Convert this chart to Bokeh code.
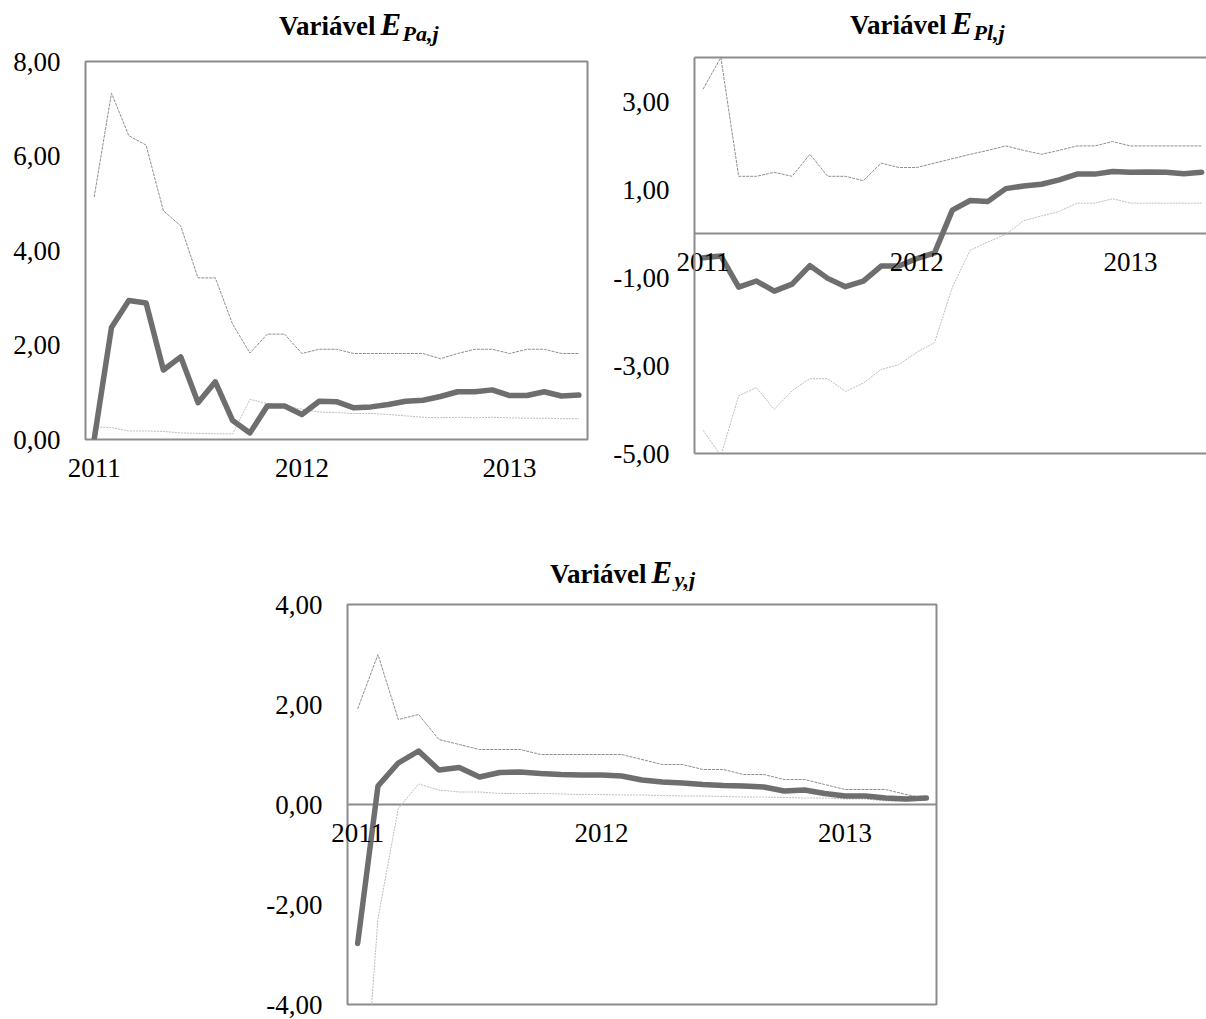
from bokeh.plotting import figure
from bokeh.models import Range1d, FixedTicker, Span, Label, LinearAxis, Spacer
from bokeh.layouts import row, column
from bokeh.embed import file_html
from bokeh.resources import INLINE
import pandas as pd

# ---------------- data ----------------
months = pd.date_range("2011-01-01", periods=29, freq="MS")
xs = list(range(len(months)))
year_ticks = [i for i, m in enumerate(months) if m.month == 1]
year_labels = [str(months[i].year) for i in year_ticks]

# Variável E_Pa,j
pa_upper = [5.13, 7.33, 6.43, 6.23, 4.84, 4.52, 3.42, 3.42, 2.44, 1.83, 2.23, 2.23, 1.82, 1.91, 1.91,
            1.82, 1.82, 1.82, 1.82, 1.82, 1.71, 1.82, 1.91, 1.91, 1.82, 1.91, 1.91, 1.82, 1.82]
pa_mid = [0.00, 2.37, 2.94, 2.89, 1.47, 1.75, 0.78, 1.22, 0.40, 0.14, 0.71, 0.71, 0.53, 0.81, 0.80,
          0.67, 0.69, 0.74, 0.81, 0.83, 0.91, 1.01, 1.01, 1.05, 0.93, 0.93, 1.01, 0.92, 0.94]
pa_lower = [0.27, 0.25, 0.18, 0.18, 0.17, 0.14, 0.13, 0.12, 0.12, 0.85, 0.76, 0.71, 0.64, 0.58, 0.57,
            0.55, 0.55, 0.53, 0.50, 0.47, 0.46, 0.47, 0.46, 0.47, 0.46, 0.45, 0.45, 0.44, 0.44]
pa_yticks = [0, 2, 4, 6, 8]
pa_ylabels = ["0,00", "2,00", "4,00", "6,00", "8,00"]

# Variável E_Pl,j
pl_upper = [3.28, 4.00, 1.30, 1.30, 1.39, 1.30, 1.80, 1.30, 1.30, 1.20, 1.60, 1.50, 1.50, 1.60, 1.70,
            1.80, 1.89, 1.99, 1.89, 1.80, 1.89, 1.99, 1.99, 2.09, 1.99, 1.99, 1.99, 1.99, 1.99]
pl_mid = [-0.55, -0.51, -1.22, -1.08, -1.31, -1.15, -0.73, -1.02, -1.21, -1.08, -0.74, -0.74, -0.57, -0.44, 0.53,
          0.75, 0.73, 1.02, 1.08, 1.12, 1.22, 1.35, 1.35, 1.41, 1.39, 1.40, 1.39, 1.36, 1.39]
pl_lower = [-4.47, -5.05, -3.69, -3.50, -4.00, -3.57, -3.30, -3.30, -3.59, -3.40, -3.09, -2.98, -2.70, -2.48, -1.22,
            -0.38, -0.19, -0.02, 0.29, 0.40, 0.50, 0.69, 0.69, 0.79, 0.69, 0.69, 0.69, 0.69, 0.69]
pl_yticks = [-5, -3, -1, 1, 3]
pl_ylabels = ["-5,00", "-3,00", "-1,00", "1,00", "3,00"]

# Variável E_y,j
y_upper = [1.91, 3.00, 1.70, 1.80, 1.30, 1.20, 1.10, 1.10, 1.10, 1.00, 1.00, 1.00, 1.00, 1.00, 0.90,
           0.80, 0.80, 0.70, 0.70, 0.60, 0.60, 0.50, 0.50, 0.40, 0.30, 0.30, 0.30, 0.20, 0.12]
y_mid = [-2.78, 0.37, 0.83, 1.07, 0.69, 0.74, 0.55, 0.64, 0.65, 0.62, 0.60, 0.59, 0.59, 0.57, 0.49,
         0.45, 0.43, 0.40, 0.38, 0.37, 0.35, 0.27, 0.29, 0.22, 0.17, 0.17, 0.13, 0.11, 0.13]
y_lower = [-7.80, -2.28, -0.08, 0.41, 0.29, 0.25, 0.25, 0.22, 0.22, 0.22, 0.21, 0.20, 0.20, 0.19, 0.19,
           0.18, 0.17, 0.17, 0.16, 0.15, 0.15, 0.14, 0.13, 0.13, 0.11, 0.11, 0.07, 0.07, 0.09]
y_yticks = [-4, -2, 0, 2, 4]
y_ylabels = ["-4,00", "-2,00", "0,00", "2,00", "4,00"]

# ---------------- style ----------------
FONT = "Liberation Serif"
TICK_SIZE = "27px"
FRAME = "#8c8c8c"
MAIN = "#6e6e6e"
UP = "#8e8e8e"
LOW = "#bdbdbd"
LABEL_GAP = 19   # distance from the horizontal axis line to the year labels


def style_axis(ax, standoff, line=None):
    ax.axis_line_color = line
    ax.axis_line_width = 2
    ax.major_tick_line_color = None
    ax.minor_tick_line_color = None
    ax.major_tick_out = 0
    ax.major_tick_in = 0
    ax.major_label_standoff = standoff
    ax.major_label_text_font = FONT
    ax.major_label_text_font_size = TICK_SIZE
    ax.major_label_text_color = "black"


def make_fig(width, height, left, right, top, bottom, xr, yr, yticks, ylabels, outline=True):
    p = figure(width=width, height=height, x_range=Range1d(*xr), y_range=Range1d(*yr),
               output_backend="svg", toolbar_location=None, title=None, frame_align=False,
               min_border_left=left, min_border_right=right, min_border_top=top, min_border_bottom=bottom,
               background_fill_color="white", border_fill_color="white")
    p.xgrid.visible = False
    p.ygrid.visible = False
    p.outline_line_color = FRAME if outline else None
    p.outline_line_width = 2
    ya = p.yaxis[0]
    ya.ticker = FixedTicker(ticks=yticks)
    ya.major_label_overrides = {t: l for t, l in zip(yticks, ylabels)}
    style_axis(ya, 25)
    xa = p.xaxis[0]
    xa.ticker = FixedTicker(ticks=year_ticks)
    xa.major_label_overrides = {t: l for t, l in zip(year_ticks, year_labels)}
    # year labels sit just under the zero line (which is the bottom edge when ymin == 0)
    frame_h = height - top - bottom
    zero_up = frame_h * (0 - yr[0]) / (yr[1] - yr[0])
    style_axis(xa, int(round(LABEL_GAP - zero_up)))
    if yr[0] < 0:
        p.add_layout(Span(location=0, dimension="width", line_color=FRAME, line_width=2, level="underlay"))
    return p


def add_lines(p, up, mid, low):
    p.line(xs, up, line_color=UP, line_width=1, line_dash="3 1")
    p.line(xs, low, line_color=LOW, line_width=1, line_dash="2 1")
    p.line(xs, mid, line_color=MAIN, line_width=5.5, line_join="round", line_cap="round")


def make_title(width, height, sub, x_var, y_var, x_e, y_e, x_sub, y_sub):
    t = figure(width=width, height=height, x_range=Range1d(0, width), y_range=Range1d(0, height),
               output_backend="svg", toolbar_location=None, title=None, frame_align=False,
               min_border_left=0, min_border_right=0, min_border_top=0, min_border_bottom=0,
               x_axis_location=None, y_axis_location=None,
               background_fill_color="white", border_fill_color="white")
    t.outline_line_color = None
    t.grid.visible = False
    common = dict(x_units="screen", y_units="screen", text_font=FONT, text_baseline="alphabetic",
                  text_color="black")
    t.add_layout(Label(x=x_var, y=y_var, text="Variável", text_font_style="bold",
                       text_font_size="27px", text_align="right", **common))
    t.add_layout(Label(x=x_e, y=y_e, text="E", text_font_style="bold italic",
                       text_font_size="31px", text_align="left", **common))
    t.add_layout(Label(x=x_sub, y=y_sub, text=sub, text_font_style="bold italic",
                       text_font_size="22px", text_align="left", **common))
    return t


# ---- chart 1 ----
t1 = make_title(600, 48, "Pa,j", 375, 23, 380, 24, 402, 15)
f1 = make_fig(600, 495, 85, 13, 13, 104, (-0.5, 28.5), (0, 8), pa_yticks, pa_ylabels)
add_lines(f1, pa_upper, pa_mid, pa_lower)

# ---- chart 2 ----
t2 = make_title(606, 48, "Pl,j", 346, 24, 351, 25, 373, 16)
f2 = make_fig(606, 495, 94, 0, 9, 90, (-0.48, 28.27), (-5, 4), pl_yticks, pl_ylabels, outline=False)
f2.xaxis[0].axis_line_color = FRAME
f2.yaxis[0].axis_line_color = FRAME
f2.add_layout(LinearAxis(ticker=FixedTicker(ticks=[]), axis_line_color=FRAME, axis_line_width=2,
                         major_tick_line_color=None, minor_tick_line_color=None,
                         major_tick_out=0, major_tick_in=0, major_label_text_font_size="0px"), "above")
add_lines(f2, pl_upper, pl_mid, pl_lower)

# ---- chart 3 ----
t3 = make_title(696, 48, "y,j", 386, 18, 391, 19, 414, 12)
f3 = make_fig(696, 428, 87, 20, 13, 15, (-0.5, 28.5), (-4, 4), y_yticks, y_ylabels)
add_lines(f3, y_upper, y_mid, y_lower)

layout = column(row(column(t1, f1), column(t2, f2)),
                row(Spacer(width=260, height=10), column(t3, f3)))

open("out.html", "w").write(file_html(layout, INLINE))
